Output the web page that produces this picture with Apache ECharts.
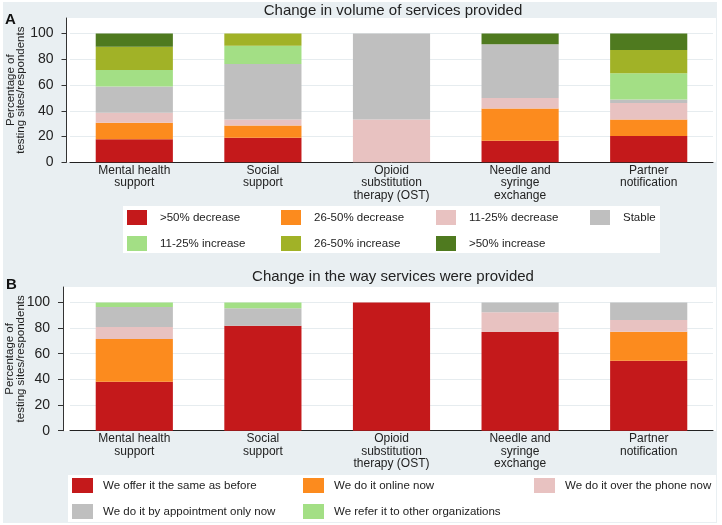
<!DOCTYPE html>
<html>
<head>
<meta charset="utf-8">
<script src="https://cdn.jsdelivr.net/npm/echarts@6/dist/echarts.min.js"></script>
<style>
  html, body { margin: 0; padding: 0; background: #fff; }
  #chart { width: 722px; height: 525px; }
</style>
</head>
<body>
<div id="chart"></div>
<script>
var categories = ['Mental health\nsupport', 'Social\nsupport', 'Opioid\nsubstitution\ntherapy (OST)', 'Needle and\nsyringe\nexchange', 'Partner\nnotification'];
var yTicks = [0, 20, 40, 60, 80, 100];

// panel A - change in volume
var volNames = ['>50% decrease', '26-50% decrease', '11-25% decrease', 'Stable', '11-25% increase', '26-50% increase', '>50% increase'];
var volColors = ['#c4191b', '#fc8b1e', '#e8c2c1', '#bfbfbf', '#a3df85', '#a1b227', '#4f7a1f'];
var dec50 = [17.9, 19.0, 0, 16.7, 20.5];
var dec26 = [12.8, 9.5, 0, 25.0, 12.8];
var dec11 = [7.7, 4.8, 33.3, 8.3, 12.8];
var stable = [20.5, 42.9, 66.7, 41.7, 2.6];
var inc11 = [12.8, 14.3, 0, 0, 20.5];
var inc26 = [17.9, 9.5, 0, 0, 17.9];
var inc50 = [10.3, 0, 0, 8.3, 12.8];
var volData = [dec50, dec26, dec11, stable, inc11, inc26, inc50];

// panel B - change in the way
var wayNames = ['We offer it the same as before', 'We do it online now', 'We do it over the phone now', 'We do it by appointment only now', 'We refer it to other organizations'];
var wayColors = ['#c4191b', '#fc8b1e', '#e8c2c1', '#bfbfbf', '#a3df85'];
var same = [38.1, 81.8, 100, 76.9, 54.5];
var online = [33.3, 0, 0, 0, 22.7];
var phone = [9.5, 0, 0, 15.4, 9.1];
var appt = [15.5, 13.7, 0, 7.7, 13.7];
var refer = [3.6, 4.5, 0, 0, 0];
var wayData = [same, online, phone, appt, refer];

var font = 'Liberation Sans, Arial, sans-serif';
var chart = echarts.init(document.getElementById('chart'));

function makeY(idx, off, gap) {
    return {
        type: 'value', gridIndex: idx, min: 0, max: 112, interval: 20, offset: off,
        name: 'Percentage of\ntesting sites/respondents',
        nameLocation: 'middle', nameGap: gap, nameRotate: 90, nameMoveOverlap: false,
        nameTextStyle: { fontFamily: font, fontSize: 11.5, lineHeight: 10.5, color: '#222' },
        axisLine: { show: true, lineStyle: { color: '#333' } },
        axisTick: { show: true, length: 5, lineStyle: { color: '#333' }, customValues: yTicks },
        axisLabel: { fontFamily: font, fontSize: 14, color: '#222', margin: 13, customValues: yTicks },
        splitLine: { show: true, lineStyle: { color: '#e6ecef' } }
    };
}
function makeX(idx) {
    return {
        type: 'category', gridIndex: idx, data: categories,
        axisLine: { lineStyle: { color: '#222' } },
        axisTick: { show: false },
        axisLabel: { fontFamily: font, fontSize: 12, lineHeight: 12.5, color: '#222', margin: 2, interval: 0 }
    };
}

var series = [];
volNames.forEach(function (n, i) {
    series.push({ name: n, type: 'bar', stack: 'vol', xAxisIndex: 0, yAxisIndex: 0,
        barWidth: '60%', itemStyle: { color: volColors[i] }, data: volData[i] });
});
wayNames.forEach(function (n, i) {
    series.push({ name: n, type: 'bar', stack: 'way', xAxisIndex: 1, yAxisIndex: 1,
        barWidth: '60%', itemStyle: { color: wayColors[i] }, data: wayData[i] });
});

var legends = [];
var volPos = [[127, 210], [281, 210], [436, 210], [590, 210], [127, 236], [281, 236], [436, 236]];
volNames.forEach(function (n, i) {
    legends.push({ data: [n], left: volPos[i][0], top: volPos[i][1], padding: 0,
        itemWidth: 20, itemHeight: 15, icon: 'rect',
        textStyle: { fontFamily: font, fontSize: 11.5, color: '#222', padding: [0, 0, 0, 8] } });
});
var wayPos = [[72, 478], [303, 478], [534, 478], [72, 504], [303, 504]];
wayNames.forEach(function (n, i) {
    legends.push({ data: [n], left: wayPos[i][0], top: wayPos[i][1], padding: 0,
        itemWidth: 21, itemHeight: 15, icon: 'rect',
        textStyle: { fontFamily: font, fontSize: 11.5, color: '#222', padding: [0, 0, 0, 5] } });
});

chart.setOption({
    animation: false,
    textStyle: { fontFamily: font },
    graphic: [
        { type: 'rect', z: -10, shape: { x: 3, y: 2, width: 714, height: 521 }, style: { fill: '#e9eff2' } },
        { type: 'rect', z: -9, shape: { x: 66, y: 18, width: 650, height: 144 }, style: { fill: '#fff' } },
        { type: 'rect', z: -9, shape: { x: 63, y: 287, width: 653, height: 144 }, style: { fill: '#fff' } },
        { type: 'rect', z: -9, shape: { x: 123, y: 206, width: 537, height: 47 }, style: { fill: '#fff' } },
        { type: 'rect', z: -9, shape: { x: 68, y: 475, width: 648, height: 47 }, style: { fill: '#fff' } }
    ],
    title: [
        { text: 'A', left: 5, top: 12, padding: 0, textStyle: { fontFamily: font, fontSize: 15, fontWeight: 'bold', color: '#111' } },
        { text: 'Change in volume of services provided', left: 393, top: 3, padding: 0, textAlign: 'center',
          textStyle: { fontFamily: font, fontSize: 15, fontWeight: 'normal', color: '#222' } },
        { text: 'B', left: 6, top: 277, padding: 0, textStyle: { fontFamily: font, fontSize: 15, fontWeight: 'bold', color: '#111' } },
        { text: 'Change in the way services were provided', left: 393, top: 269, padding: 0, textAlign: 'center',
          textStyle: { fontFamily: font, fontSize: 15, fontWeight: 'normal', color: '#222' } }
    ],
    legend: legends,
    grid: [
        { left: 70, right: 9, top: 18, height: 144.3, outerBoundsMode: 'none', containLabel: false },
        { left: 70, right: 9, top: 287, height: 143.7, outerBoundsMode: 'none', containLabel: false }
    ],
    xAxis: [makeX(0), makeX(1)],
    yAxis: [makeY(0, 3.5, 40), makeY(1, 7, 37)],
    series: series
});
</script>
</body>
</html>
